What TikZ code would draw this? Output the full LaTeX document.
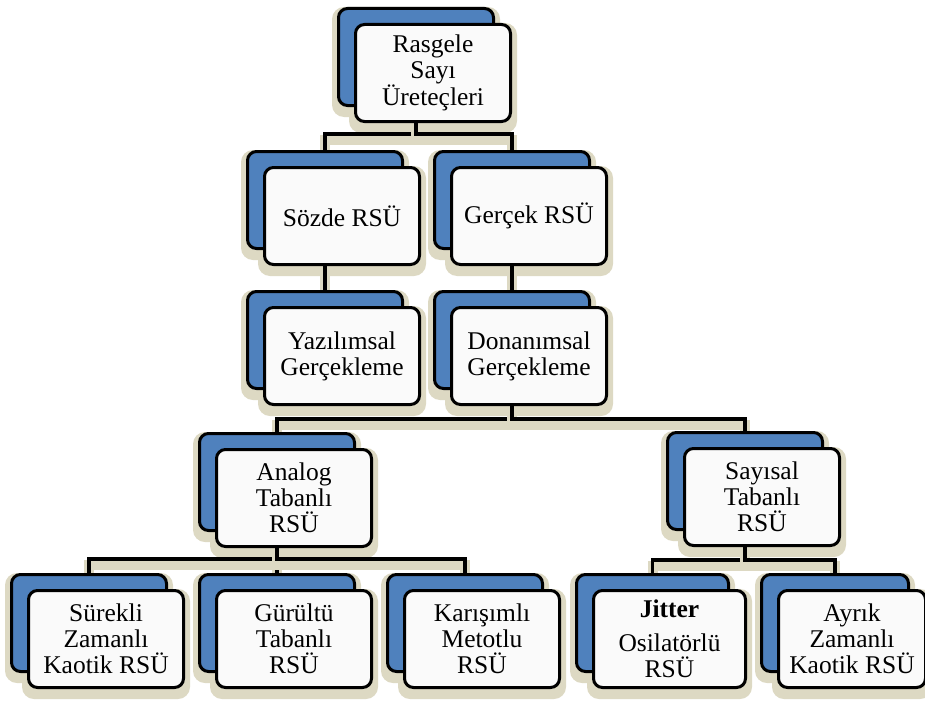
\documentclass[tikz,border=0pt]{standalone}
\usepackage{fontspec}
\setmainfont{Liberation Serif}
\definecolor{backblue}{RGB}{79,129,189}
\definecolor{shade}{RGB}{221,217,195}
\definecolor{frontfill}{RGB}{250,250,250}
\pgfdeclarelayer{canvas}
\pgfdeclarelayer{shadow}
\pgfdeclarelayer{links}
\pgfsetlayers{canvas,shadow,links,main}

\tikzset{
  backbox/.style={draw=black, line width=3pt, fill=backblue, rounded corners=9pt,
    minimum height=97pt, inner sep=0pt, anchor=north west},
  frontbox/.style={draw=black, line width=3pt, fill=frontfill, rounded corners=9pt,
    minimum height=97pt, inner sep=0pt, anchor=north west,
    align=center, font=\fontsize{25.5}{26}\selectfont},
  boxshadow/.style={fill=shade, rounded corners=12pt},
  link/.style={draw=black, line width=3.5pt},
  linkshadow/.style={draw=shade, line width=10pt, transform canvas={yshift=-6pt}}
}

% \rsubox[width]{name}{x}{y}{text}: a blue back card with a white card in front
\newcommand\rsubox[5][155]{%
  \node[backbox, minimum width=#1pt] (#2-b) at (#3,#4) {};
  \node[frontbox, minimum width=#1pt] (#2) at ([shift={(17,16)}]#2-b.north west) {#5};
  \begin{pgfonlayer}{shadow}
    \fill[boxshadow] ([shift={(-5,0)}]#2-b.north west) rectangle ([shift={(5,10)}]#2-b.south east);
    \fill[boxshadow] ([shift={(-5,0)}]#2.north west) rectangle ([shift={(5,10)}]#2.south east);
  \end{pgfonlayer}
}

% \treelink{parent}{bus}{child}: stub, bus and drop to a child card
\newcommand\treelink[3]{%
  \draw[linkshadow] (#1-b.center |- #1.south) -- (#1-b.center |- #2) -| (#3-b.north);
  \draw[link] (#1-b.center |- #1.south) -- (#1-b.center |- #2) -| (#3-b.north);
}

\begin{document}
\begin{tikzpicture}[x=1pt, y=-1pt]
  \useasboundingbox (0,0) rectangle (925,701);
  \begin{pgfonlayer}{canvas}
    \fill[white] (0,0) rectangle (925,701);
  \end{pgfonlayer}

  \rsubox{root}{337}{7}{Rasgele\\Sayı\\Üreteçleri}
  \rsubox{pseudo}{246}{150}{Sözde RSÜ}
  \rsubox{true}{433}{150}{Gerçek RSÜ}
  \rsubox{soft}{246}{290}{Yazılımsal\\Gerçekleme}
  \rsubox{hard}{433}{290}{Donanımsal\\Gerçekleme}
  \rsubox{analog}{198}{432}{Analog\\Tabanlı\\RSÜ}
  \rsubox{digital}{666}{431}{Sayısal\\Tabanlı\\RSÜ}
  \rsubox{cont}{10}{573}{Sürekli\\Zamanlı\\Kaotik RSÜ}
  \rsubox{noise}{198}{573}{Gürültü\\Tabanlı\\RSÜ}
  \rsubox{mixed}{386}{573}{Karışımlı\\Metotlu\\RSÜ}
  \rsubox[152]{jitter}{575}{573}{\textbf{Jitter}\\[8pt]Osilatörlü\\RSÜ}
  \rsubox[147]{discrete}{760}{573}{Ayrık\\Zamanlı\\Kaotik RSÜ}

  \coordinate (bus1) at (0,134);
  \coordinate (bus2) at (0,419);
  \coordinate (bus3) at (0,559);
  \coordinate (bus4) at (0,560);

  \begin{pgfonlayer}{links}
    \treelink{root}{bus1}{pseudo}
    \treelink{root}{bus1}{true}
    \draw[linkshadow] (pseudo-b.center |- pseudo.south) -- (soft-b.north);
    \draw[link] (pseudo-b.center |- pseudo.south) -- (soft-b.north);
    \draw[linkshadow] (true-b.center |- true.south) -- (hard-b.north);
    \draw[link] (true-b.center |- true.south) -- (hard-b.north);
    \treelink{hard}{bus2}{analog}
    \treelink{hard}{bus2}{digital}
    \treelink{analog}{bus3}{cont}
    \treelink{analog}{bus3}{noise}
    \treelink{analog}{bus3}{mixed}
    \treelink{digital}{bus4}{jitter}
    \treelink{digital}{bus4}{discrete}
  \end{pgfonlayer}
\end{tikzpicture}
\end{document}
